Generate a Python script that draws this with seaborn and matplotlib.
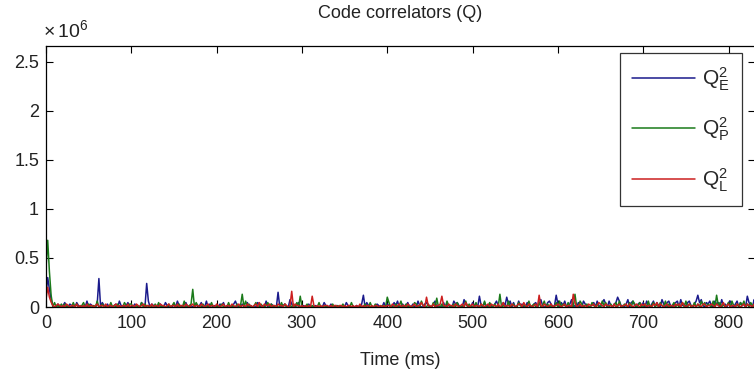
import numpy as np
import pandas as pd
import matplotlib
import matplotlib.pyplot as plt
import seaborn as sns

matplotlib.use('Agg')

# sample step (ms) of the noise strings below; each digit is one noise_unit
step_ms = 2
noise_unit = 1.5e4
spike_unit = 1e4

qe_noise = """
0000100200 1300210031 0010402100 2003102000 1204100130
0021003100 4021001200 3100020410 0230010020 1300402101
0021300100 2410020030 1000320104 0021003001 2005200130
0100200010 0003100200 1000003100 0010020031 0000210030
2100314002 0130020041 0023100240 1003021004 2310052100
3020410301 2002410031 0240300412 0031002302 5100342010
2031400250 1030042100 2304103520 4102304100 2503410230
3041024031 0520341023 4051203410 2403510324 1042305120
3410240312 0431052031
"""
qp_noise = """
0000030102 0201003020 0130020010 4002010030 1020003102
2001003020 0100203001 0020130020 0400120031 0020010300
1002000301 0020100402 0013002001 3020010030 2001020300
0002001000 3001000020 0100200003 0000100200 3002000100
0300020140 0201003200 4100200301 0020041002 0300104020
0130020400 3102003010 0401200310 2004012003 0140201003
0402103010 3004201200 3102004130 0201304002 1030420130
0204013020 3104020130 2013040210 3020413021 0402130201
3041020314 0203104201
"""
ql_noise = """
0000101210 1021011020 1010201101 2011020110 1201011020
1102101201 1020110211 0120110201 1021012011 0210120110
2101201102 1012011021 1012031021 1201102110 2101302110
1010101101 0101110101 1011010110 1010201011 0101101010
1102101201 1021012011 3102110201 1201102110 2101203101
2011021012 0211020130 1102101220 3102101201 1021012011
2101201102 3012011021 1201321021 1102012011 2021012102
1201102130 2101201102 1203101201 1021022011 2102101301
2011021012 0211021012
"""

# larger peaks: time (ms) and height (1e4 units)
qe_spike_t = [0, 2, 4, 6, 62, 118, 272, 372, 508, 540, 598, 670, 764, 822]
qe_spike_v = [12, 30, 18, 8, 29, 24, 15, 12, 11, 10, 12, 10, 12, 11]
qp_spike_t = [0, 2, 4, 6, 172, 230, 298, 400, 458, 532, 620, 786]
qp_spike_v = [40, 68, 36, 12, 18, 13, 11, 10, 9, 13, 13, 12]
ql_spike_t = [0, 2, 4, 6, 288, 312, 446, 464, 578, 618]
ql_spike_v = [8, 20, 10, 5, 16, 11, 10, 11, 12, 13]

labels = [r'$\mathregular{Q_E^2}$', r'$\mathregular{Q_P^2}$', r'$\mathregular{Q_L^2}$']
colors = ['#1a1a8c', '#1a7a1a', '#cc1f1f']
x_ticks = [0, 100, 200, 300, 400, 500, 600, 700, 800]
y_ticks = [0, 0.5e6, 1e6, 1.5e6, 2e6, 2.5e6]
y_ticklabels = ['0', '0.5', '1', '1.5', '2', '2.5']


def build(noise, spike_t, spike_v):
    digits = noise.replace(' ', '').replace('\n', '')
    vals = np.array([int(c) for c in digits], dtype=float) * noise_unit
    for t, v in zip(spike_t, spike_v):
        vals[t // step_ms] = v * spike_unit
    t = np.arange(len(vals)) * step_ms
    return t, vals


frames = []
for name, (noise, st, sv) in zip(labels, [(qe_noise, qe_spike_t, qe_spike_v),
                                           (qp_noise, qp_spike_t, qp_spike_v),
                                           (ql_noise, ql_spike_t, ql_spike_v)]):
    t, v = build(noise, st, sv)
    frames.append(pd.DataFrame({'time': t, 'value': v, 'series': name}))
df = pd.concat(frames, ignore_index=True)

sns.set_theme(style='white')
plt.rcParams['font.family'] = ['Liberation Sans', 'DejaVu Sans']
plt.rcParams['mathtext.fontset'] = 'custom'
plt.rcParams['mathtext.rm'] = 'Liberation Sans'

W, H = 754, 371
fig = plt.figure(figsize=(W / 100, H / 100), dpi=100)
ax = fig.add_axes([46 / W, (H - 307) / H, (755 - 46) / W, (307 - 46) / H])

sns.lineplot(data=df, x='time', y='value', hue='series', palette=colors,
             linewidth=1.1, ax=ax, estimator=None, sort=False)

ax.set_xlim(0, 831)
ax.set_ylim(0, 2.66e6)
ax.set_xticks(x_ticks)
ax.set_xticklabels([str(v) for v in x_ticks])
ax.set_yticks(y_ticks)
ax.set_yticklabels(y_ticklabels)
ax.tick_params(axis='both', which='both', direction='in', length=5, width=0.8,
               color='black', labelsize=13, labelcolor='#222222',
               top=True, right=True, bottom=True, left=True)
ax.tick_params(axis='x', pad=6)
ax.tick_params(axis='y', pad=5)
for s in ax.spines.values():
    s.set_color('black')
    s.set_linewidth(0.9)

ax.set_xlabel('Time (ms)', fontsize=13, color='#222222')
ax.xaxis.set_label_coords((400 - 46) / (755 - 46), -(352 - 307) / (307 - 46), transform=ax.transAxes)
ax.set_ylabel('')
fig.text(400 / W, 1 - 13 / H, 'Code correlators (Q)', ha='center', va='center',
         fontsize=13, color='#222222')
fig.text(43 / W, 1 - 37 / H, r'$\mathregular{\times\,10^6}$', ha='left', va='baseline',
         fontsize=14, color='#222222')

leg = ax.legend(loc='upper right', bbox_to_anchor=(742 / W, 1 - 53 / H),
                bbox_transform=fig.transFigure, borderaxespad=0, frameon=True,
                fancybox=False, fontsize=15, handlelength=3.0, handletextpad=0.35,
                labelspacing=1.1, borderpad=0.6)
leg.get_frame().set_edgecolor('black')
leg.get_frame().set_linewidth(0.9)
for line in leg.get_lines():
    line.set_linewidth(1.1)

fig.savefig('out.png', dpi=100)
